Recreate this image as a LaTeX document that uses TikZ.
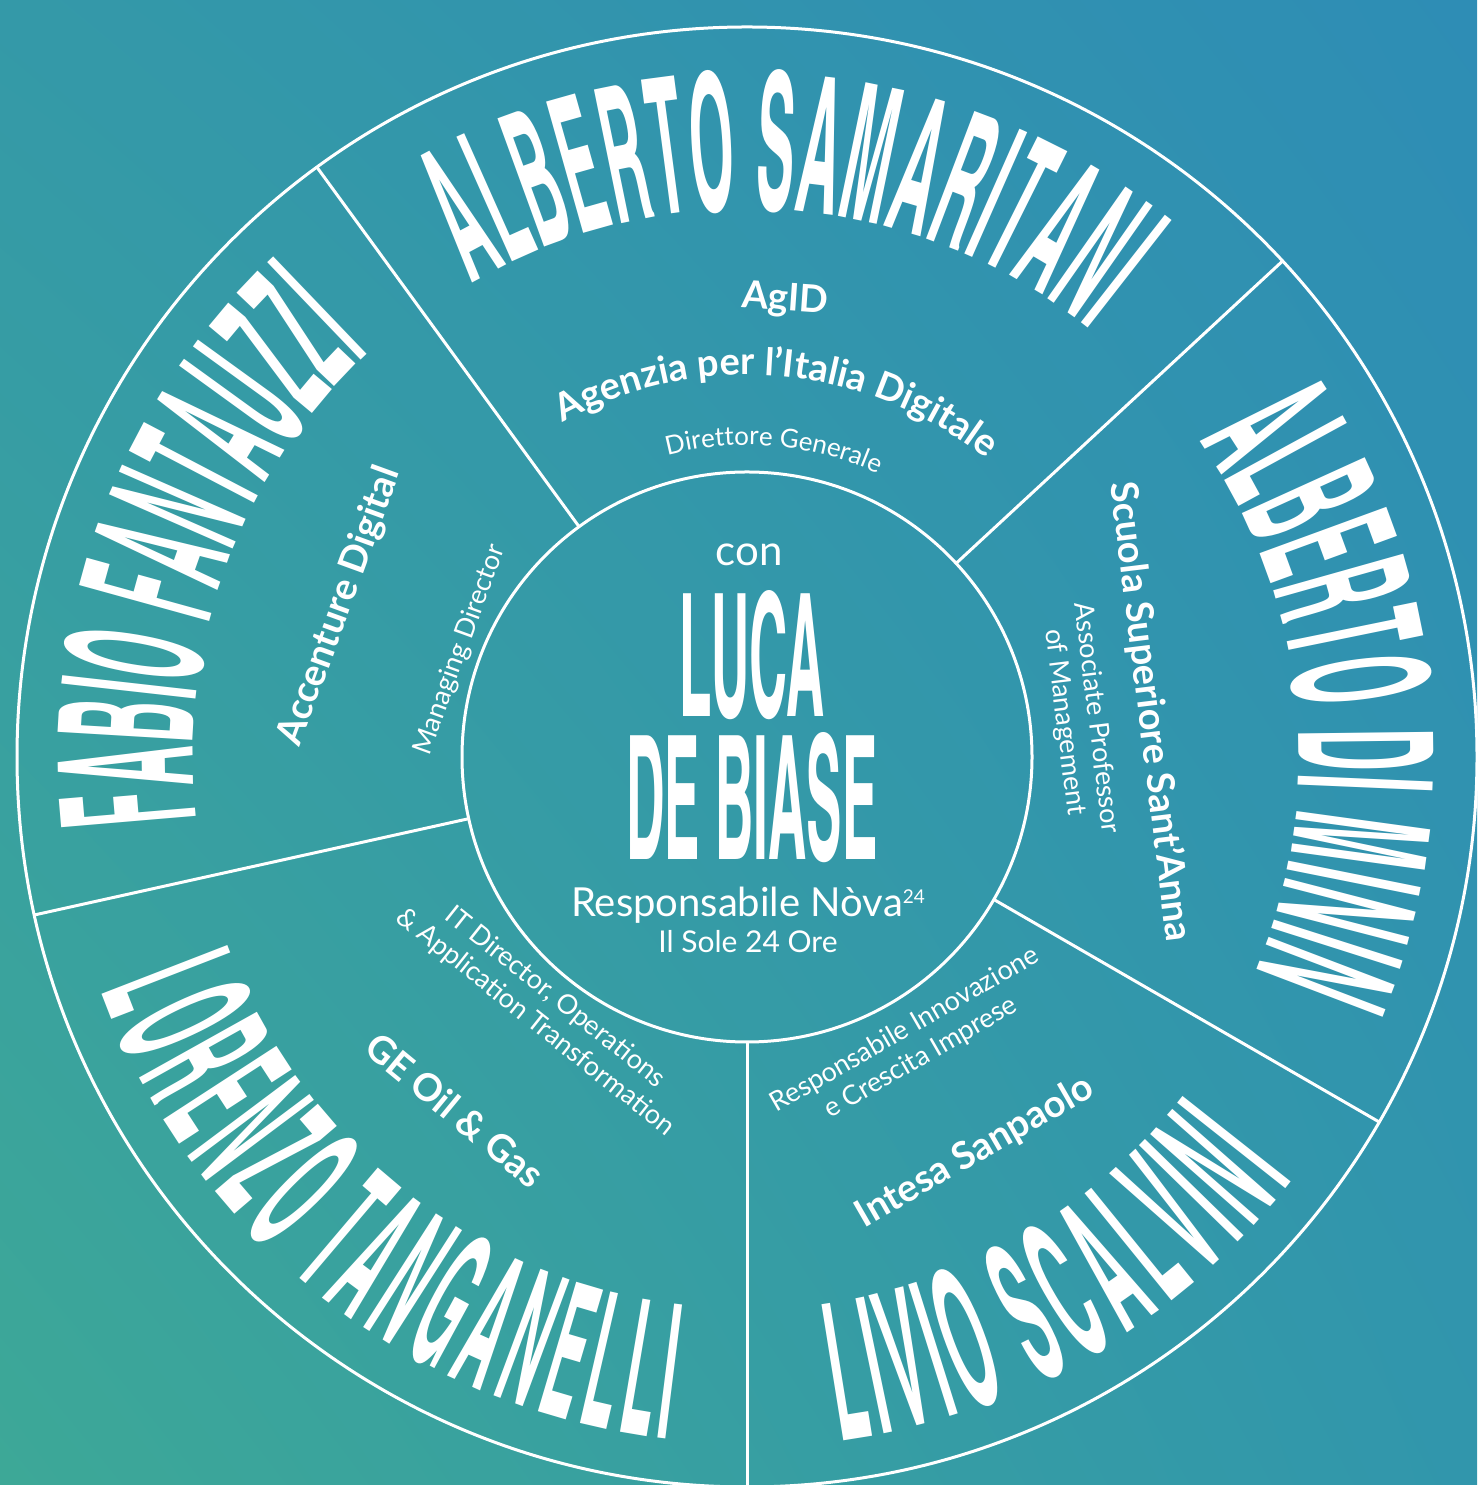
\documentclass[tikz,border=0pt]{standalone}
\usepackage{fontspec}
\usepackage{graphicx}
\usetikzlibrary{decorations.text,shadings}
\newfontfamily\subfont{Lato}
\newfontfamily\namefont{texgyreheroscn-bold.otf}
\newfontfamily\fTop[FakeStretch=0.365]{texgyreheroscn-bold.otf}
\newfontfamily\fRight[FakeStretch=0.38]{texgyreheroscn-bold.otf}
\newfontfamily\fLeft[FakeStretch=0.36]{texgyreheroscn-bold.otf}
\newfontfamily\fLivio[FakeStretch=0.365]{texgyreheroscn-bold.otf}
\newfontfamily\fLoren[FakeStretch=0.345]{texgyreheroscn-bold.otf}
\newcommand\nmTop{\fTop\fontsize{190}{190}\selectfont\color{white}}
\newcommand\nmRight{\fRight\fontsize{188}{188}\selectfont\color{white}}
\newcommand\nmLeft{\fLeft\fontsize{188}{188}\selectfont\color{white}}
\newcommand\nmLivio{\fLivio\fontsize{192}{192}\selectfont\color{white}}
\newcommand\nmLoren{\fLoren\fontsize{188}{188}\selectfont\color{white}}
\newcommand\instA{\subfont\bfseries\fontsize{38}{44}\selectfont\color{white}}
\newcommand\roleA{\subfont\fontsize{26}{30}\selectfont\color{white}}
\definecolor{bgTL}{HTML}{3499A8}
\definecolor{bgTR}{HTML}{2E8DB5}
\definecolor{bgBL}{HTML}{3DA897}
\definecolor{bgBR}{HTML}{3196AC}
\tikzset{
  wline/.style={draw=white, line width=3pt},
  subB/.style={text=white, inner sep=0pt, font=\subfont\bfseries\fontsize{38}{44}\selectfont},
  subR/.style={text=white, inner sep=0pt, font=\subfont\fontsize{27}{32}\selectfont},
  nametext/.style={decorate, decoration={text along path, text align=fit to path, text={#1}}},
  nametextlow/.style 2 args={decorate, decoration={text along path, text align=fit to path, raise=#2, text={#1}}},
  arctext/.style={decorate, decoration={text along path, text align=center, text={#1}}}
}
\begin{document}
\begin{tikzpicture}[x=1pt,y=1pt]
\useasboundingbox (0,0) rectangle (1477,1485);
\shade[upper left=bgTL, upper right=bgTR, lower left=bgBL, lower right=bgBR] (0,0) rectangle (1477,1485);
\coordinate (C) at (747,728);
% rings
\draw[wline] (C) circle[radius=730pt];
\draw[wline] (C) circle[radius=285pt];
\foreach \a/\n in {126.1/a,42.8/b,-30/c,-90/d,192.5/e}{
  \coordinate (in\n) at ([shift={(\a:285pt)}]C);
  \coordinate (out\n) at ([shift={(\a:730pt)}]C);
  \draw[wline] (in\n) -- (out\n);
}
% names on arcs
\path[nametext={|\nmTop|ALBERTO SAMARITANI}] ([shift={(120.2:548pt)}]C) arc[start angle=120.2, end angle=51.2, radius=548pt];
\path[nametext={|\nmRight|ALBERTO DI MININ}] ([shift={(35:552pt)}]C) arc[start angle=35, end angle=-23, radius=552pt];
\path[nametext={|\nmLeft|FABIO FANTAUZZI}] ([shift={(186.6:554pt)}]C) arc[start angle=186.6, end angle=133, radius=554pt];
\path[nametextlow={|\nmLivio|LIVIO SCALVINI}{-138pt}] ([shift={(-82.7:552pt)}]C) arc[start angle=-82.7, end angle=-37.5, radius=552pt];
\path[nametextlow={|\nmLoren|LORENZO TANGANELLI}{-135pt}] ([shift={(199.5:552pt)}]C) arc[start angle=199.5, end angle=263.2, radius=552pt];
% top segment
\node[subB, rotate=-4] (agid) at (785,1185) {AgID};
\path[arctext={|\instA|Agenzia per l’Italia Digitale}] ([shift={(140:382pt)}]C) arc[start angle=140, end angle=30, radius=382pt];
\path[arctext={|\roleA|Direttore Generale}] ([shift={(130:312pt)}]C) arc[start angle=130, end angle=40, radius=312pt];
% right segment
\node[subB, rotate=-83] (sssa) at (1150,773) {Scuola Superiore Sant’Anna};
\node[subR, rotate=-83, align=center] (assoc) at (1080,765) {Associate Professor\\of Management};
% left segment
\node[subB, rotate=70] (acc) at (340,879) {Accenture Digital};
\node[subR, rotate=70] (md) at (460,835) {Managing Director};
% lower left
\node[subB, rotate=-39.5] (ge) at (455,375) {GE Oil \& Gas};
\node[subR, rotate=-38.5, align=center] (itd) at (545,475) {IT Director, Operations\\\& Application Transformation};
% lower right
\node[subB, rotate=30] (isp) at (975,333) {Intesa Sanpaolo};
\node[subR, rotate=30, align=center] (rii) at (913,441) {Responsabile Innovazione\\e Crescita Imprese};
% centre
\node[subR, font=\subfont\fontsize{42}{42}\selectfont] (con) at (749,930) {con};
\node[inner sep=0pt, text=white] (luca) at (752,830) {\resizebox{145pt}{126pt}{\namefont LUCA}};
\node[inner sep=0pt, text=white] (debiase) at (752,687) {\resizebox{251pt}{127pt}{\namefont DE BIASE}};
\node[subR, font=\subfont\fontsize{40}{40}\selectfont] (resp) at (748,580) {Responsabile Nòva\raisebox{13pt}{\fontsize{19}{19}\selectfont 24}};
\node[subR, font=\subfont\fontsize{30}{30}\selectfont] (sole) at (748,543) {Il Sole 24 Ore};
\end{tikzpicture}
\end{document}
